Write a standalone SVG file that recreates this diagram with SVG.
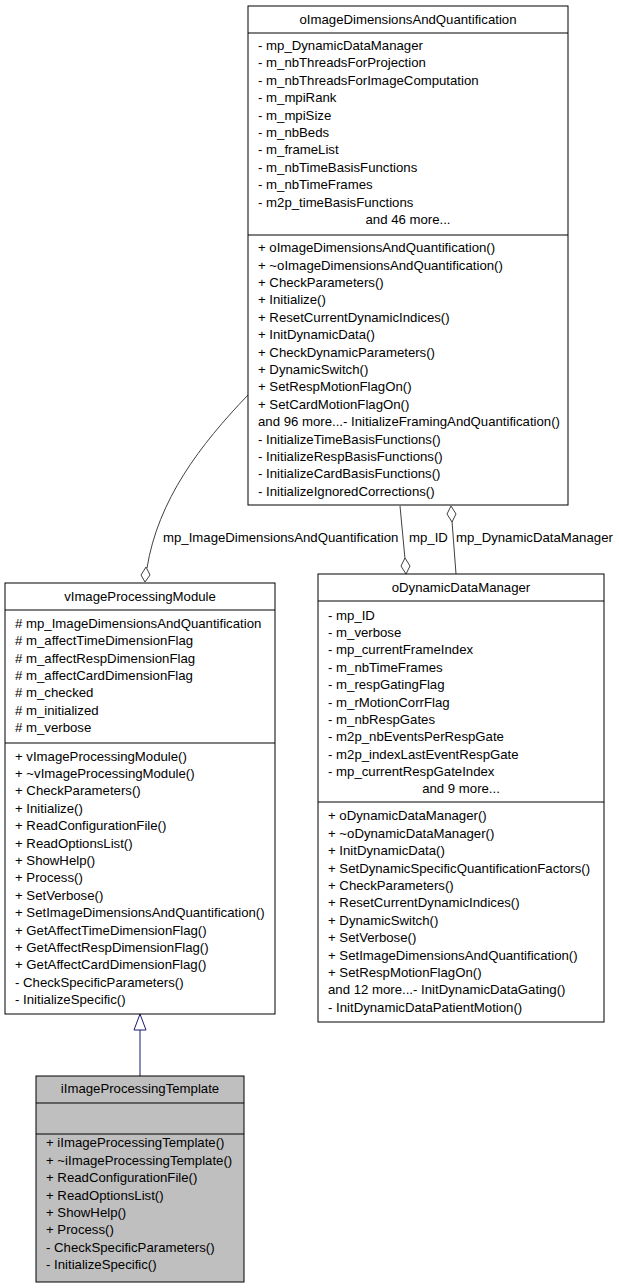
<svg xmlns="http://www.w3.org/2000/svg" width="619" height="1288" viewBox="0 0 619 1288">
<style>
text{font-family:"Liberation Sans",Arial,sans-serif;font-size:13.2px;fill:#000}
.c{text-anchor:middle}
.box{fill:#fff;stroke:#000;stroke-width:1}
.sel{fill:#bfbfbf;stroke:#000;stroke-width:1}
.e{fill:none;stroke:#404040;stroke-width:1}
.d{fill:#fff;stroke:#404040;stroke-width:1}
</style>
<rect width="619" height="1288" fill="#fff"/>
<g id="connectors">
<path class="e" d="M248,395 C200,445 158,500 147,568"/>
<polygon class="d" points="145,582 141,575 146,567 150,575"/>
<text x="163" y="542">mp_ImageDimensionsAndQuantification</text>
<path class="e" d="M400,506 L405,559"/>
<polygon class="d" points="406,574 401,566 405,558 410,566"/>
<text x="409" y="542">mp_ID</text>
<path class="e" d="M452,521 L456,574"/>
<polygon class="d" points="451,506 447,514 452,522 456,514"/>
<text x="456" y="542">mp_DynamicDataManager</text>
<path d="M140,1076 L140,1030" stroke="#191970" stroke-width="1" fill="none"/>
<polygon points="140,1014 134,1030 146,1030" fill="#fff" stroke="#191970"/>
</g>
<g id="oImageDimensionsAndQuantification">
<rect class="box" x="248" y="6" width="320" height="499"/>
<line x1="248" y1="33" x2="568" y2="33" stroke="#000"/>
<line x1="248" y1="235" x2="568" y2="235" stroke="#000"/>
<text class="c" x="408" y="24">oImageDimensionsAndQuantification</text>
<text x="258" y="50">- mp_DynamicDataManager</text>
<text x="258" y="67">- m_nbThreadsForProjection</text>
<text x="258" y="85">- m_nbThreadsForImageComputation</text>
<text x="258" y="102">- m_mpiRank</text>
<text x="258" y="120">- m_mpiSize</text>
<text x="258" y="137">- m_nbBeds</text>
<text x="258" y="154">- m_frameList</text>
<text x="258" y="172">- m_nbTimeBasisFunctions</text>
<text x="258" y="189">- m_nbTimeFrames</text>
<text x="258" y="207">- m2p_timeBasisFunctions</text>
<text class="c" x="408" y="224">and 46 more...</text>
<text x="258" y="252">+ oImageDimensionsAndQuantification()</text>
<text x="258" y="270">+ ~oImageDimensionsAndQuantification()</text>
<text x="258" y="287">+ CheckParameters()</text>
<text x="258" y="304">+ Initialize()</text>
<text x="258" y="322">+ ResetCurrentDynamicIndices()</text>
<text x="258" y="339">+ InitDynamicData()</text>
<text x="258" y="357">+ CheckDynamicParameters()</text>
<text x="258" y="374">+ DynamicSwitch()</text>
<text x="258" y="391">+ SetRespMotionFlagOn()</text>
<text x="258" y="409">+ SetCardMotionFlagOn()</text>
<text x="258" y="426">and 96 more...- InitializeFramingAndQuantification()</text>
<text x="258" y="444">- InitializeTimeBasisFunctions()</text>
<text x="258" y="461">- InitializeRespBasisFunctions()</text>
<text x="258" y="478">- InitializeCardBasisFunctions()</text>
<text x="258" y="496">- InitializeIgnoredCorrections()</text>
</g>
<g id="vImageProcessingModule">
<rect class="box" x="5" y="583" width="270" height="431"/>
<line x1="5" y1="610" x2="275" y2="610" stroke="#000"/>
<line x1="5" y1="743" x2="275" y2="743" stroke="#000"/>
<text class="c" x="140" y="601">vImageProcessingModule</text>
<text x="15" y="628"># mp_ImageDimensionsAndQuantification</text>
<text x="15" y="645"># m_affectTimeDimensionFlag</text>
<text x="15" y="663"># m_affectRespDimensionFlag</text>
<text x="15" y="680"># m_affectCardDimensionFlag</text>
<text x="15" y="697"># m_checked</text>
<text x="15" y="715"># m_initialized</text>
<text x="15" y="732"># m_verbose</text>
<text x="15" y="761">+ vImageProcessingModule()</text>
<text x="15" y="778">+ ~vImageProcessingModule()</text>
<text x="15" y="795">+ CheckParameters()</text>
<text x="15" y="813">+ Initialize()</text>
<text x="15" y="830">+ ReadConfigurationFile()</text>
<text x="15" y="848">+ ReadOptionsList()</text>
<text x="15" y="865">+ ShowHelp()</text>
<text x="15" y="882">+ Process()</text>
<text x="15" y="900">+ SetVerbose()</text>
<text x="15" y="917">+ SetImageDimensionsAndQuantification()</text>
<text x="15" y="935">+ GetAffectTimeDimensionFlag()</text>
<text x="15" y="952">+ GetAffectRespDimensionFlag()</text>
<text x="15" y="969">+ GetAffectCardDimensionFlag()</text>
<text x="15" y="987">- CheckSpecificParameters()</text>
<text x="15" y="1004">- InitializeSpecific()</text>
</g>
<g id="oDynamicDataManager">
<rect class="box" x="318" y="574" width="286" height="448"/>
<line x1="318" y1="601" x2="604" y2="601" stroke="#000"/>
<line x1="318" y1="802" x2="604" y2="802" stroke="#000"/>
<text class="c" x="461" y="592">oDynamicDataManager</text>
<text x="328" y="620">- mp_ID</text>
<text x="328" y="637">- m_verbose</text>
<text x="328" y="654">- mp_currentFrameIndex</text>
<text x="328" y="672">- m_nbTimeFrames</text>
<text x="328" y="689">- m_respGatingFlag</text>
<text x="328" y="707">- m_rMotionCorrFlag</text>
<text x="328" y="724">- m_nbRespGates</text>
<text x="328" y="741">- m2p_nbEventsPerRespGate</text>
<text x="328" y="759">- m2p_indexLastEventRespGate</text>
<text x="328" y="776">- mp_currentRespGateIndex</text>
<text class="c" x="461" y="793">and 9 more...</text>
<text x="328" y="820">+ oDynamicDataManager()</text>
<text x="328" y="838">+ ~oDynamicDataManager()</text>
<text x="328" y="855">+ InitDynamicData()</text>
<text x="328" y="873">+ SetDynamicSpecificQuantificationFactors()</text>
<text x="328" y="890">+ CheckParameters()</text>
<text x="328" y="907">+ ResetCurrentDynamicIndices()</text>
<text x="328" y="925">+ DynamicSwitch()</text>
<text x="328" y="942">+ SetVerbose()</text>
<text x="328" y="960">+ SetImageDimensionsAndQuantification()</text>
<text x="328" y="977">+ SetRespMotionFlagOn()</text>
<text x="328" y="994">and 12 more...- InitDynamicDataGating()</text>
<text x="328" y="1012">- InitDynamicDataPatientMotion()</text>
</g>
<g id="iImageProcessingTemplate">
<rect class="sel" x="36" y="1076" width="208" height="206"/>
<line x1="36" y1="1103" x2="244" y2="1103" stroke="#000"/>
<line x1="36" y1="1134" x2="244" y2="1134" stroke="#000"/>
<text class="c" x="140" y="1093">iImageProcessingTemplate</text>
<text x="46" y="1147">+ iImageProcessingTemplate()</text>
<text x="46" y="1165">+ ~iImageProcessingTemplate()</text>
<text x="46" y="1182">+ ReadConfigurationFile()</text>
<text x="46" y="1200">+ ReadOptionsList()</text>
<text x="46" y="1217">+ ShowHelp()</text>
<text x="46" y="1234">+ Process()</text>
<text x="46" y="1252">- CheckSpecificParameters()</text>
<text x="46" y="1269">- InitializeSpecific()</text>
</g>
</svg>
